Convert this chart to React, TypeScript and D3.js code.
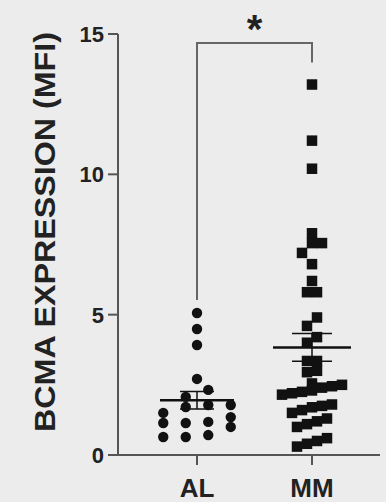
import React from "react";
import * as d3 from "d3";

const categories = ["AL", "MM"];
const alValues = [5.06, 4.49, 3.92, 2.71, 2.07, 1.5, 1.14, 0.64, 1.78, 1.35, 1.0, 1.78, 1.14, 0.64, 2.32, 1.71, 1.18, 0.71];
const mmValues = [
  13.2, 11.2, 10.2,
  7.9, 7.55, 7.55, 7.2,
  6.8, 6.2, 5.8, 5.8,
  4.9, 4.6, 4.2, 4.0,
  3.35, 3.35, 3.0, 2.95,
  2.55, 2.5, 2.45, 2.4, 2.3, 2.25, 2.2, 2.15,
  1.8, 1.75, 1.7, 1.6, 1.5,
  1.3, 1.2, 1.1, 1.0,
  0.6, 0.5, 0.4, 0.3,
];
const yTicks = [0, 5, 10, 15];
const yTitle = "BCMA EXPRESSION (MFI)";
const sigLabel = "*";

const W = 386;
const H = 502;

function rowLayout(values: number[], binUnits: number, spacing: number, maxPerRow: number) {
  const sorted = [...values].sort((a, b) => a - b);
  const rows: number[][] = [];
  let cur: number[] = [];
  for (const v of sorted) {
    if (cur.length === 0 || (v - cur[0] < binUnits && cur.length < maxPerRow)) cur.push(v);
    else {
      rows.push(cur);
      cur = [v];
    }
  }
  if (cur.length) rows.push(cur);
  const out: { v: number; dx: number }[] = [];
  rows.forEach((r) => {
    const n = r.length;
    r.forEach((v, i) => out.push({ v, dx: (i - (n - 1) / 2) * spacing }));
  });
  return out;
}

export default function App() {
  const y = d3.scaleLinear().domain([0, 15]).range([455, 34]);
  const x = d3.scalePoint<string>().domain(categories).range([197, 312]);
  const unitPx = y(0) - y(1);

  const alPts = rowLayout(alValues, 11 / unitPx, 22.5, 4);
  const mmPts = rowLayout(mmValues, 10 / unitPx, 10, 8);

  const stats = (vals: number[]) => {
    const m = d3.mean(vals) as number;
    const sem = (d3.deviation(vals) as number) / Math.sqrt(vals.length);
    return { m, sem };
  };
  const alS = stats(alValues);
  const mmS = stats(mmValues);

  const font = "'Liberation Sans', Arial, sans-serif";
  const ax = 118;
  const ink = "#111";
  const sq = 10.5;

  const meanBar = (cx: number, s: { m: number; sem: number }, half: number, cap: number) => (
    <g stroke={ink}>
      <line x1={cx} x2={cx} y1={y(s.m - s.sem)} y2={y(s.m + s.sem)} strokeWidth={1.5} />
      <line x1={cx - cap} x2={cx + cap} y1={y(s.m + s.sem)} y2={y(s.m + s.sem)} strokeWidth={1.5} />
      <line x1={cx - cap} x2={cx + cap} y1={y(s.m - s.sem)} y2={y(s.m - s.sem)} strokeWidth={1.5} />
      <line x1={cx - half} x2={cx + half} y1={y(s.m)} y2={y(s.m)} strokeWidth={2.5} />
    </g>
  );

  const xAL = x("AL") as number;
  const xMM = x("MM") as number;

  return (
    <svg width={W} height={H} style={{ position: "absolute", left: 0, top: 0 }} fontFamily={font}>
      <rect width={W} height={H} fill="#ececec" />
      {/* y axis */}
      <line x1={ax} x2={ax} y1={y(15)} y2={y(0)} stroke="#555" strokeWidth={2} />
      {yTicks.map((t) => (
        <g key={t}>
          <line x1={ax - 10} x2={ax} y1={y(t)} y2={y(t)} stroke="#555" strokeWidth={2} />
          <text x={ax - 14} y={y(t)} dy="0.36em" textAnchor="end" fontSize={22} fontWeight="bold" fill="#222">
            {t}
          </text>
        </g>
      ))}
      <text
        transform={`translate(55, ${232}) rotate(-90)`}
        textAnchor="middle"
        fontSize={30}
        fontWeight="bold"
        fill="#222"
        textLength={400}
        lengthAdjust="spacingAndGlyphs"
      >
        {yTitle}
      </text>
      {/* x axis */}
      <line x1={ax} x2={380} y1={y(0)} y2={y(0)} stroke="#555" strokeWidth={2} />
      {categories.map((c) => (
        <g key={c}>
          <line x1={x(c)} x2={x(c)} y1={y(0)} y2={y(0) + 10} stroke="#555" strokeWidth={2} />
          <text x={x(c)} y={497} textAnchor="middle" fontSize={26} fontWeight="bold" fill="#222">
            {c}
          </text>
        </g>
      ))}
      {/* significance bracket */}
      <path
        d={`M${xAL},${y(d3.max(alValues) as number) - 13} V43 H${xMM} V${y(d3.max(mmValues) as number) - 22}`}
        fill="none"
        stroke="#666"
        strokeWidth={2}
      />
      <text x={(xAL + xMM) / 2} y={43} textAnchor="middle" fontSize={40} fontWeight="bold" fill="#222">
        {sigLabel}
      </text>
      {/* points */}
      {alPts.map((p, i) => (
        <circle key={"a" + i} cx={xAL + p.dx} cy={y(p.v)} r={5.2} fill={ink} />
      ))}
      {mmPts.map((p, i) => (
        <rect key={"m" + i} x={xMM + p.dx - sq / 2} y={y(p.v) - sq / 2} width={sq} height={sq} fill={ink} />
      ))}
      {meanBar(xAL, alS, 37, 17)}
      {meanBar(xMM, mmS, 39, 20)}
    </svg>
  );
}
